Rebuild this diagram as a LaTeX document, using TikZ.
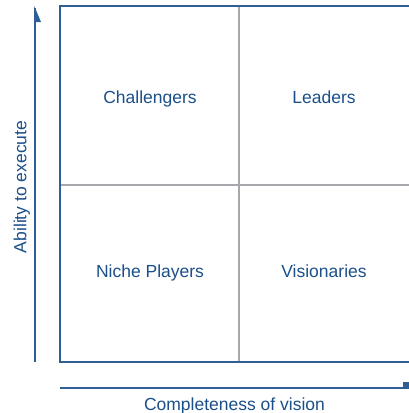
\documentclass[tikz,border=0pt]{standalone}
\usepackage{fontspec}
\setmainfont{Liberation Sans}
\definecolor{frameblue}{HTML}{2E5F95}
\definecolor{textblue}{HTML}{1B4F8A}
\definecolor{gridgray}{HTML}{A8A8AC}
\tikzset{
  quadlabel/.style={text=textblue, font=\fontsize{17.5}{20}\selectfont, inner sep=0pt, anchor=base},
  axislabel/.style={text=textblue, font=\fontsize{17.5}{20}\selectfont, inner sep=0pt, anchor=base},
  frame/.style={draw=frameblue, line width=1.6pt},
  grid line/.style={draw=gridgray, line width=2pt},
  axis/.style={draw=frameblue, line width=1.5pt},
  headfill/.style={fill=frameblue, draw=none}
}
\begin{document}
\begin{tikzpicture}[x=1pt,y=-1pt]
\useasboundingbox (0,0) rectangle (408,413);
% grid lines
\draw[grid line] (239,6) -- (239,362);
\draw[grid line] (60,185) -- (410,185);
% frame
\draw[frame] (412,6) -- (60,6) -- (60,362) -- (412,362);
% quadrant labels
\node[quadlabel] (chal) at (150,103.5) {Challengers};
\node[quadlabel] (lead) at (324,103.5) {Leaders};
\node[quadlabel] (niche) at (150,277.5) {Niche Players};
\node[quadlabel] (vis) at (324,277.5) {Visionaries};
% vertical axis
\coordinate (ybot) at (35,362);
\coordinate (ytop) at (35,8);
\draw[axis] (ybot) -- (ytop);
\fill[headfill] (34.3,6) -- (41,22) -- (34.3,22) -- cycle;
\node[axislabel, rotate=90] (ylab) at (26.5,187) {Ability to execute};
% horizontal axis
\coordinate (xl) at (60,388);
\coordinate (xr) at (410,388);
\draw[axis] (xl) -- (xr);
\fill[headfill] (403,382) -- (410,382) -- (410,388.7) -- (403,388.7) -- cycle;
\node[axislabel] (xlab) at (234.5,410.5) {Completeness of vision};
\end{tikzpicture}
\end{document}
